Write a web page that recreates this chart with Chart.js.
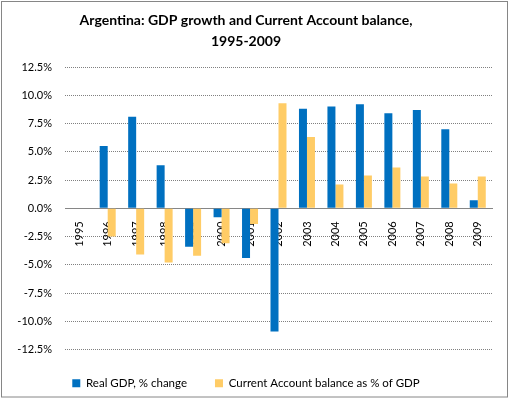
<!DOCTYPE html>
<html>
<head>
<meta charset="utf-8">
<script src="https://cdn.jsdelivr.net/npm/chart.js@4/dist/chart.umd.min.js"></script>
<style>
  html, body { margin: 0; padding: 0; background: #fff; }
  #wrap { width: 510px; height: 399px; position: relative; }
</style>
</head>
<body>
<div id="wrap"><canvas id="c" width="510" height="399"></canvas></div>
<script>
const years = ['1995','1996','1997','1998','1999','2000','2001','2002','2003','2004','2005','2006','2007','2008','2009'];
const realGdp = [null, 5.5, 8.1, 3.8, -3.4, -0.8, -4.4, -10.9, 8.8, 9.0, 9.2, 8.4, 8.7, 7.0, 0.7];
const currentAccount = [null, -2.5, -4.1, -4.8, -4.2, -3.1, -1.4, 9.3, 6.3, 2.1, 2.9, 3.6, 2.8, 2.2, 2.8];
const titleLines = ['Argentina: GDP growth and Current Account balance,', '1995-2009'];
const seriesNames = ['Real GDP, % change', 'Current Account balance as % of GDP'];

const FONT = 'Lato, "Open Sans", sans-serif';

const framePlugin = {
  id: 'frame',
  afterDraw(chart) {
    const ctx = chart.ctx;
    ctx.save();
    ctx.strokeStyle = '#868686';
    ctx.lineWidth = 1;
    ctx.strokeRect(1.5, 1.5, 506, 395.5);
    ctx.restore();
  }
};

new Chart(document.getElementById('c'), {
  type: 'bar',
  data: {
    labels: years,
    datasets: [
      { label: seriesNames[0], data: realGdp, backgroundColor: '#0070C0', borderWidth: 0 },
      { label: seriesNames[1], data: currentAccount, backgroundColor: '#FFCC66', borderWidth: 0 }
    ]
  },
  plugins: [framePlugin],
  options: {
    responsive: false,
    animation: false,
    devicePixelRatio: 1,
    layout: { padding: { left: 0, right: 18, top: 0, bottom: 0 } },
    datasets: { bar: { categoryPercentage: 0.562, barPercentage: 1.0 } },
    plugins: {
      title: {
        display: true,
        text: titleLines,
        color: '#000',
        font: { family: FONT, size: 14, weight: 'bold', lineHeight: 1.5 },
        padding: { top: 10, bottom: 15 }
      },
      legend: {
        position: 'bottom',
        labels: {
          color: '#000',
          font: { family: FONT, size: 11.5 },
          boxWidth: 8,
          boxHeight: 8,
          padding: 28
        }
      },
      tooltip: { enabled: false }
    },
    scales: {
      x: {
        position: { y: 0 },
        grid: { display: false, drawTicks: false },
        border: { display: true, color: '#868686', width: 1 },
        ticks: {
          color: '#000',
          font: { family: FONT, size: 11 },
          maxRotation: 90,
          minRotation: 90,
          padding: 13,
          autoSkip: false
        }
      },
      y: {
        min: -12.5,
        max: 12.5,
        afterFit(scale) { scale.width = 65; },
        grid: { color: '#808080', drawTicks: false, lineWidth: 1, borderDash: [1, 1] },
        border: { display: false, dash: [1, 1] },
        ticks: {
          stepSize: 2.5,
          color: '#000',
          font: { family: FONT, size: 11 },
          padding: 13,
          callback: (v) => v.toFixed(1) + '%'
        }
      }
    }
  }
});
</script>
</body>
</html>
